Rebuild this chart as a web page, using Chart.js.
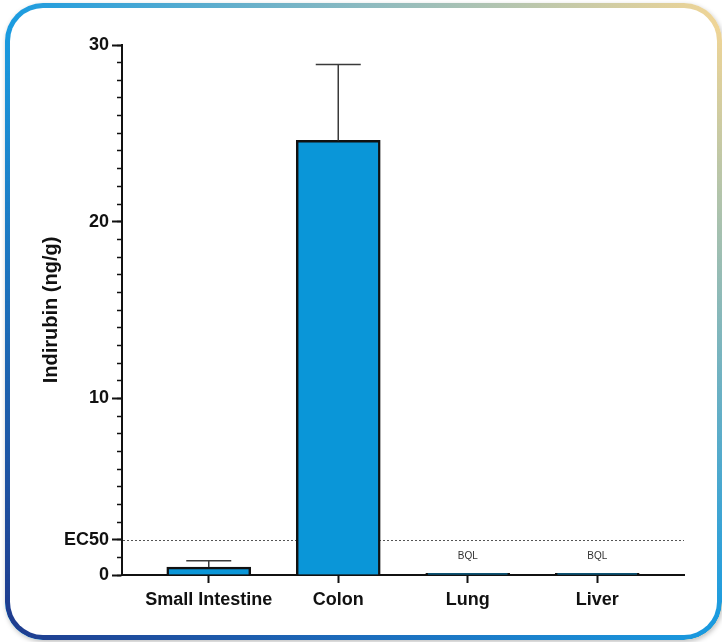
<!DOCTYPE html>
<html>
<head>
<meta charset="utf-8">
<script src="https://cdn.jsdelivr.net/npm/chart.js@4.4.1/dist/chart.umd.min.js"></script>
<style>
  html, body { margin: 0; padding: 0; background: #ffffff; }
  #wrap { position: relative; width: 722px; height: 642px; overflow: hidden; background: #ffffff; }
  .frame {
    position: absolute; left: 5px; top: 3px; width: 717px; height: 637px;
    border-radius: 38px;
    background: linear-gradient(to right, #1a9be0 0%, #8cbac0 50%, #f0d596 100%);
    box-shadow: 1px 2px 5px rgba(0,0,0,0.25);
  }
  .frame::before {
    content: ''; position: absolute; left: 0; top: 0; right: 0; bottom: 0;
    border-radius: 38px;
    background: linear-gradient(to right, #1f3c8e 0%, #1c6dbd 50%, #1a9be0 100%);
    -webkit-mask-image: linear-gradient(to bottom, rgba(0,0,0,0) 4%, rgba(0,0,0,1) 96%);
    mask-image: linear-gradient(to bottom, rgba(0,0,0,0) 4%, rgba(0,0,0,1) 96%);
  }
  .inner {
    position: absolute; left: 5px; top: 5px; right: 5px; bottom: 5px;
    border-radius: 33px; background: #ffffff;
  }
  canvas { position: absolute; left: 0; top: 0; }
</style>
</head>
<body>
<div id="wrap">
  <div class="frame"><div class="inner"></div></div>
  <canvas id="c" width="722" height="642"></canvas>
</div>
<script>
// ---- data ----
const categories = ['Small Intestine', 'Colon', 'Lung', 'Liver'];
const means = [0.45, 24.6, 0.1, 0.1];
const errorsUp = [0.35, 4.3, 0, 0];
const notes = ['', '', 'BQL', 'BQL'];
const ec50Value = 2;
const yMajorTicks = [0, 2, 10, 20, 30];
const yMajorLabels = ['0', 'EC50', '10', '20', '30'];
const yTitle = 'Indirubin (ng/g)';

const FONT = "'Liberation Sans', Arial, Helvetica, sans-serif";

const ec50Plugin = {
  id: 'ec50',
  beforeDatasetsDraw(chart) {
    const {ctx, chartArea, scales} = chart;
    const y = Math.round(scales.y.getPixelForValue(ec50Value)) + 0.5;
    ctx.save();
    ctx.strokeStyle = '#555555';
    ctx.lineWidth = 1;
    ctx.setLineDash([2, 2]);
    ctx.beginPath();
    ctx.moveTo(chartArea.left + 1, y);
    ctx.lineTo(chartArea.right, y);
    ctx.stroke();
    ctx.restore();
  }
};

const errorPlugin = {
  id: 'errorbars',
  afterDatasetsDraw(chart) {
    const {ctx, scales} = chart;
    ctx.save();
    ctx.strokeStyle = '#3a3a3a';
    ctx.lineWidth = 1.5;
    means.forEach((m, i) => {
      if (!errorsUp[i]) return;
      const x = scales.x.getPixelForValue(i);
      const yb = scales.y.getPixelForValue(m);
      const yt = scales.y.getPixelForValue(m + errorsUp[i]);
      ctx.beginPath();
      ctx.moveTo(x, yb);
      ctx.lineTo(x, yt);
      ctx.moveTo(x - 22.5, yt);
      ctx.lineTo(x + 22.5, yt);
      ctx.stroke();
    });
    // notes (BQL)
    ctx.fillStyle = '#333333';
    ctx.font = '10px ' + FONT;
    ctx.textAlign = 'center';
    ctx.textBaseline = 'middle';
    notes.forEach((t, i) => {
      if (!t) return;
      const x = scales.x.getPixelForValue(i);
      const y = scales.y.getPixelForValue(means[i]) - 17;
      ctx.fillText(t, x, y);
    });
    ctx.restore();
  }
};

new Chart(document.getElementById('c'), {
  type: 'bar',
  data: {
    datasets: [{
      data: means.map((v, i) => ({x: i, y: v})),
      backgroundColor: '#0a96d8',
      borderColor: '#111111',
      borderWidth: 2.5,
      borderSkipped: 'bottom',
      barThickness: 84,
      yAxisID: 'y',
      xAxisID: 'x'
    }]
  },
  options: {
    responsive: false,
    animation: false,
    layout: { padding: { left: 0, right: 38, top: 45, bottom: 0 } },
    plugins: { legend: { display: false }, tooltip: { enabled: false } },
    scales: {
      x: {
        type: 'linear',
        position: 'bottom',
        min: -0.67,
        max: 3.67,
        offset: false,
        afterBuildTicks(s) { s.ticks = categories.map((c, i) => ({value: i})); },
        afterFit(s) { s.height = 67; },
        ticks: {
          autoSkip: false,
          maxRotation: 0,
          padding: 6,
          color: '#111111',
          font: { family: FONT, size: 18, weight: 'bold' },
          callback: (v) => categories[v] !== undefined ? categories[v] : ''
        },
        grid: { offset: false, drawOnChartArea: false, drawTicks: true, tickLength: 8, tickWidth: 2, tickColor: '#111111', color: '#111111' },
        border: { display: true, width: 2, color: '#111111' }
      },
      y: {
        type: 'linear',
        position: 'left',
        weight: 1,
        min: 0,
        max: 30,
        afterBuildTicks(s) { s.ticks = yMajorTicks.map(v => ({value: v})); },
        afterFit(s) { s.width = 122; },
        ticks: {
          autoSkip: false,
          padding: 3,
          color: '#111111',
          font: { family: FONT, size: 18, weight: 'bold' },
          callback: (v, i) => yMajorLabels[i]
        },
        title: {
          display: true,
          text: yTitle,
          color: '#111111',
          font: { family: FONT, size: 20, weight: 'bold' },
          padding: { top: 39, bottom: 0 }
        },
        grid: { drawOnChartArea: false, drawTicks: true, tickLength: 10, tickWidth: 2, tickColor: '#111111', color: '#111111' },
        border: { display: true, width: 2, color: '#111111' }
      },
      yMinor: {
        type: 'linear',
        position: 'left',
        weight: 0,
        min: 0,
        max: 30,
        afterFit(s) { s.width = 0; },
        ticks: { display: false, stepSize: 1, maxTicksLimit: 40 },
        grid: { drawOnChartArea: false, drawTicks: true, tickLength: 5, tickWidth: 1.5, tickColor: '#111111', color: '#111111' },
        border: { display: false }
      }
    }
  },
  plugins: [ec50Plugin, errorPlugin]
});
</script>
</body>
</html>
